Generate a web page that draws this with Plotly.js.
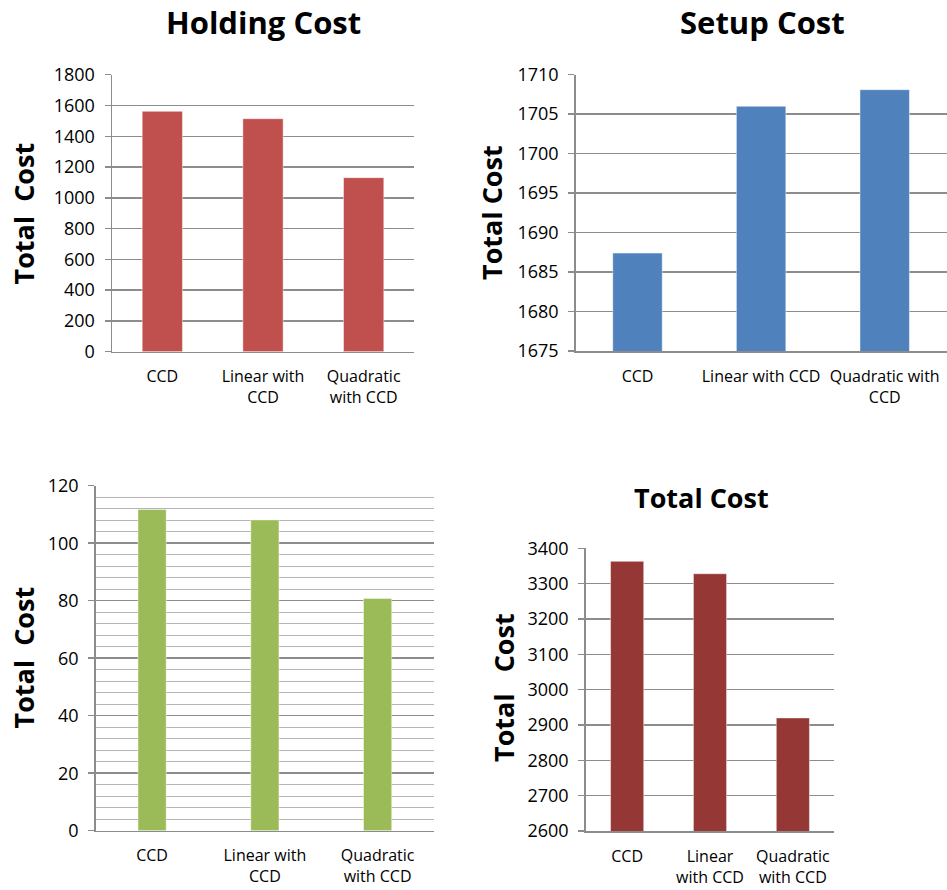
<!DOCTYPE html>
<html>
<head>
<meta charset="utf-8">
<script src="https://cdn.plot.ly/plotly-3.0.1.min.js"></script>
<style>html,body{margin:0;padding:0;background:#fff;}#chart{width:947px;height:890px;}</style>
</head>
<body>
<div id="chart"></div>
<script>
// ---- data ----
const holdingCategories = ["CCD", "Linear with<br>CCD", "Quadratic<br>with CCD"];
const holdingValues = [1562, 1514, 1131];

const setupCategories = ["CCD", "Linear with CCD", "Quadratic with<br>CCD"];
const setupValues = [1687.4, 1706.0, 1708.1];

const thirdCategories = ["CCD", "Linear with<br>CCD", "Quadratic<br>with CCD"];
const thirdValues = [111.7, 108.1, 80.8];

const totalCategories = ["CCD", "Linear<br>with CCD", "Quadratic<br>with CCD"];
const totalValues = [3363, 3328, 2920];

const panelTitles = ["Holding Cost", "Setup Cost", "Total Cost"];
const yTitles = ["Total\u00a0\u00a0Cost", "Total Cost", "Total\u00a0\u00a0Cost", "Total\u00a0\u00a0\u00a0Cost"];

// ---- styling ----
const FONT = "Open Sans, Noto Sans, DejaVu Sans, sans-serif";
const GRID = "#8c8c8c";
const W = 947, H = 890;
const px = v => v / W;
const py = v => 1 - v / H;

function bar(x, y, color, width, xa, ya) {
  return {
    type: "bar", x: x, y: y, xaxis: xa, yaxis: ya,
    width: width,
    marker: {color: color, line: {color: "rgba(255,255,255,0.45)", width: 1}},
    hoverinfo: "x+y", showlegend: false
  };
}

const traces = [
  bar(holdingCategories, holdingValues, "#C0504D", 0.4, "x", "y"),
  bar(setupCategories, setupValues, "#4F81BD", 0.4, "x2", "y2"),
  bar(thirdCategories, thirdValues, "#9BBB59", 0.25, "x3", "y3"),
  bar(totalCategories, totalValues, "#953735", 0.4, "x4", "y4")
];

function xax(domain, anchor) {
  return {
    domain: domain, anchor: anchor, type: "category",
    showline: true, linecolor: GRID, linewidth: 1.5,
    showgrid: false, ticks: "", ticklabelstandoff: 10,
    tickfont: {family: FONT, size: 16, color: "#000"},
    fixedrange: true
  };
}
function yax(domain, anchor, range, dtick, minor) {
  const a = {
    domain: domain, anchor: anchor, range: range, dtick: dtick, tick0: range[0],
    showline: true, linecolor: GRID, linewidth: 1.5,
    showgrid: true, gridcolor: GRID, gridwidth: 1.5,
    zeroline: false,
    ticks: "outside", ticklen: 6, tickcolor: GRID, tickwidth: 1.5,
    ticklabelstandoff: 6,
    tickfont: {family: FONT, size: 18, color: "#000"},
    fixedrange: true
  };
  if (minor) a.minor = minor;
  return a;
}

const layout = {
  width: W, height: H,
  margin: {l: 0, r: 0, t: 0, b: 0},
  paper_bgcolor: "#fff", plot_bgcolor: "#fff",
  font: {family: FONT, color: "#000"},
  xaxis: xax([px(112), px(414)], "y"),
  yaxis: yax([py(351.7), py(74.7)], "x", [0, 1800], 200),
  xaxis2: xax([px(575.7), px(946.5)], "y2"),
  yaxis2: yax([py(351), py(74.7)], "x2", [1675, 1710], 5),
  xaxis3: xax([px(95.7), px(434)], "y3"),
  yaxis3: yax([py(830.7), py(485.7)], "x3", [0, 120], 20,
              {dtick: 4, tick0: 0, showgrid: true, gridcolor: "#b4b4b4", gridwidth: 1.2, ticks: ""}),
  xaxis4: xax([px(585.7), px(834.3)], "y4"),
  yaxis4: yax([py(831), py(548.3)], "x4", [2600, 3400], 100),
  annotations: [
    {text: "<b>" + panelTitles[0] + "</b>", x: px(263.5), y: py(22), xref: "paper", yref: "paper",
     showarrow: false, font: {family: FONT, size: 31, color: "#000"}, xanchor: "center", yanchor: "middle"},
    {text: "<b>" + panelTitles[1] + "</b>", x: px(762), y: py(22), xref: "paper", yref: "paper",
     showarrow: false, font: {family: FONT, size: 31, color: "#000"}, xanchor: "center", yanchor: "middle"},
    {text: "<b>" + panelTitles[2] + "</b>", x: px(701), y: py(498), xref: "paper", yref: "paper",
     showarrow: false, font: {family: FONT, size: 27, color: "#000"}, xanchor: "center", yanchor: "middle"},
    {text: "<b>" + yTitles[0] + "</b>", x: px(22.5), y: py(214), xref: "paper", yref: "paper", textangle: -90,
     showarrow: false, font: {family: FONT, size: 27, color: "#000"}, xanchor: "center", yanchor: "middle"},
    {text: "<b>" + yTitles[1] + "</b>", x: px(492), y: py(213), xref: "paper", yref: "paper", textangle: -90,
     showarrow: false, font: {family: FONT, size: 27, color: "#000"}, xanchor: "center", yanchor: "middle"},
    {text: "<b>" + yTitles[2] + "</b>", x: px(22.5), y: py(658), xref: "paper", yref: "paper", textangle: -90,
     showarrow: false, font: {family: FONT, size: 27, color: "#000"}, xanchor: "center", yanchor: "middle"},
    {text: "<b>" + yTitles[3] + "</b>", x: px(503), y: py(688), xref: "paper", yref: "paper", textangle: -90,
     showarrow: false, font: {family: FONT, size: 27, color: "#000"}, xanchor: "center", yanchor: "middle"}
  ]
};

Plotly.newPlot("chart", traces, layout, {displayModeBar: false, staticPlot: true});
</script>
</body>
</html>
